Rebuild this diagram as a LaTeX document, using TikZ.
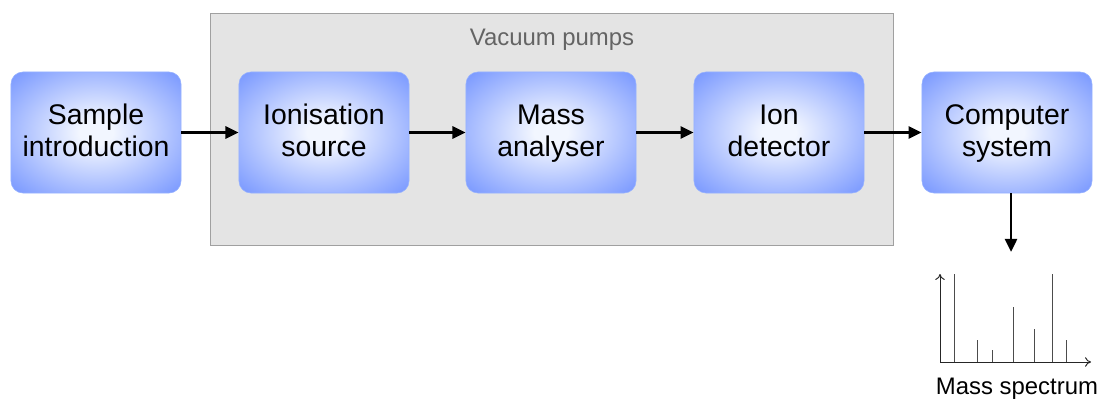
\documentclass[tikz,border=0pt]{standalone}
\usepackage{fontspec}
\setmainfont{Liberation Sans}
\usetikzlibrary{arrows.meta,positioning}

\definecolor{boxblue}{RGB}{108,142,255}
\definecolor{boxcentre}{RGB}{242,246,255}
\definecolor{boxedge}{RGB}{150,178,255}
\definecolor{vacgrey}{RGB}{228,228,228}
\definecolor{vacline}{RGB}{160,160,160}
\definecolor{vactext}{RGB}{100,100,100}
\pgfdeclareradialshading{boxshade}{\pgfpoint{0bp}{0bp}}{color(0bp)=(boxcentre); color(5bp)=(boxcentre); color(38bp)=(boxblue); color(50bp)=(boxblue)}

\newcommand{\twolines}[2]{\rule{0pt}{18pt}#1\\#2\rule[-6pt]{0pt}{6pt}}

\tikzset{
  unit/.style={rectangle, rounded corners=0.3cm, shading=boxshade, draw=boxedge, line width=0.4pt,
    minimum width=4.25cm, minimum height=3.025cm, align=center,
    font=\fontsize{20.2}{22.7}\selectfont},
  flow/.style={line width=2.1pt, -{Triangle[length=0.33cm,width=0.3cm]}},
  axis/.style={line width=0.7pt, black!85, -{To[length=0.15cm,width=0.24cm]}},
  peak/.style={line width=0.5pt, black!70}
}

\begin{document}
\begin{tikzpicture}[x=0.025cm,y=-0.025cm]
  \useasboundingbox (0,0) rectangle (1105,401);

  % vacuum chamber
  \node (vac) [rectangle, draw=vacline, fill=vacgrey, line width=0.6pt,
    minimum width=17.05cm, minimum height=5.8cm] at (552,129) {};
  \node (vaclabel) [text=vactext, font=\fontsize{17}{20}\selectfont] at (552,40) {Vacuum pumps};

  % stages
  \node (sample) [unit] at (96,132.5) {\twolines{Sample}{introduction}};
  \node (source) [unit] at (324,132.5) {\twolines{Ionisation}{source}};
  \node (analyser) [unit] at (551,132.5) {\twolines{Mass}{analyser}};
  \node (detector) [unit] at (779,132.5) {\twolines{Ion}{detector}};
  \node (computer) [unit] at (1007,132.5) {\twolines{Computer}{system}};

  \draw[flow] (sample) -- (source);
  \draw[flow] (source) -- (analyser);
  \draw[flow] (analyser) -- (detector);
  \draw[flow] (detector) -- (computer);

  \coordinate (spectop) at (1011,252);
  \draw[flow] (computer.south -| spectop) -- (spectop);

  % spectrum
  \coordinate (origin) at (940,362);
  \draw[axis] (origin) -- (940,274);
  \draw[axis] (origin) -- (1091,362);
  \foreach \px/\py in {954/274, 977/340, 992/350, 1013/307, 1034/329, 1052/274, 1066/340}
    \draw[peak] (\px,361.5) -- (\px,\py);
  \node (speclabel) [font=\fontsize{17}{20}\selectfont] at (1017,389) {Mass spectrum};
\end{tikzpicture}
\end{document}
